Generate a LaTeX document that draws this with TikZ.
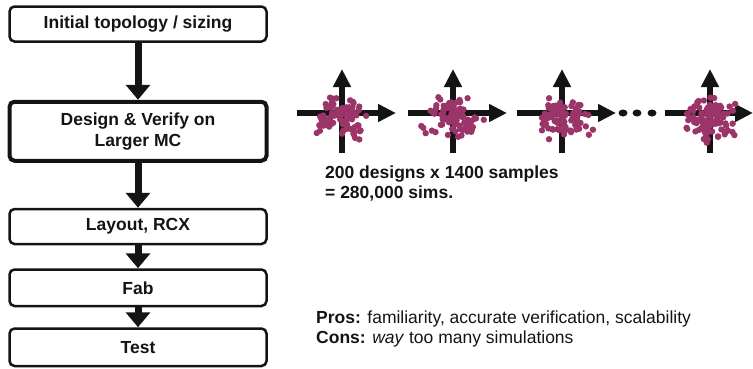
\documentclass[tikz,border=0pt]{standalone}
\usepackage{fontspec}
\setmainfont{Liberation Sans}
\usetikzlibrary{arrows.meta,positioning}
\definecolor{Ink}{HTML}{141414}
\definecolor{Plum}{HTML}{9B3468}
\tikzset{
  stepbox/.style={draw=Ink,line width=2.5pt,rounded corners=5pt,minimum width=257pt,minimum height=35pt,align=center,font=\fontsize{17.5}{21}\selectfont\bfseries,text=Ink,inner sep=0pt},
  bigbox/.style={stepbox,line width=4pt,minimum height=59pt},
  flow/.style={-{Triangle[length=15pt,width=24pt]},draw=Ink,line width=7pt},
  axis/.style={-{Triangle[length=18pt,width=17pt]},draw=Ink,line width=5.5pt},
  sample/.style={fill=Plum,draw=none},
  note/.style={anchor=west,align=left,font=\fontsize{17.5}{20}\selectfont,text=Ink,inner sep=0pt}
}

\begin{document}
\begin{tikzpicture}[x=1pt,y=-1pt]
  \useasboundingbox (0,0) rectangle (753,368);
  % flow on the left
  \node[stepbox] (init) at (138,24) {Initial topology / sizing};
  \node[bigbox,below=57pt of init] (verify) {Design \& Verify on\\Larger MC};
  \node[stepbox,below=45pt of verify] (layout) {Layout, RCX};
  \node[stepbox,minimum height=36.5pt,below=23pt of layout] (fab) {Fab};
  \node[stepbox,minimum height=37.5pt,below=20pt of fab] (test) {Test};
  \draw[flow] (init) -- (verify);
  \draw[flow] (verify) -- (layout);
  \draw[flow] (layout) -- (fab);
  \draw[flow] (fab) -- (test);

  % monte carlo clouds
  \pgfmathsetseed{4217}
  \foreach \cx/\rx [count=\i] in {342/54,453/54,562/54,710/43} {
    \coordinate (o\i) at (\cx,113);
    \draw[axis] ([xshift=-45pt]o\i) -- ([xshift=\rx pt]o\i);
    \draw[axis] ([yshift=-40pt]o\i) -- ([yshift=44pt]o\i);
    \foreach \k in {1,...,90} {
      \pgfmathsetmacro\dx{12*(rand+rand+rand)}
      \pgfmathsetmacro\dy{-5+10*(rand+rand+rand)}
      \fill[sample] ([xshift=\dx pt,yshift=\dy pt]o\i) circle[radius=3.2pt];
    }
  }
  \foreach \ex in {623,637,652}
    \fill[Ink] (\ex,113) ellipse[x radius=4.5pt,y radius=3.5pt];

  \node[note,font=\fontsize{17.5}{20}\selectfont\bfseries] (count) at (325,184) {200 designs x 1400 samples\\= 280,000 sims.};
  \node[note] (proscons) at (316,329) {\textbf{Pros:} familiarity, accurate verification, scalability\\\textbf{Cons:} \textit{way} too many simulations};
\end{tikzpicture}
\end{document}
